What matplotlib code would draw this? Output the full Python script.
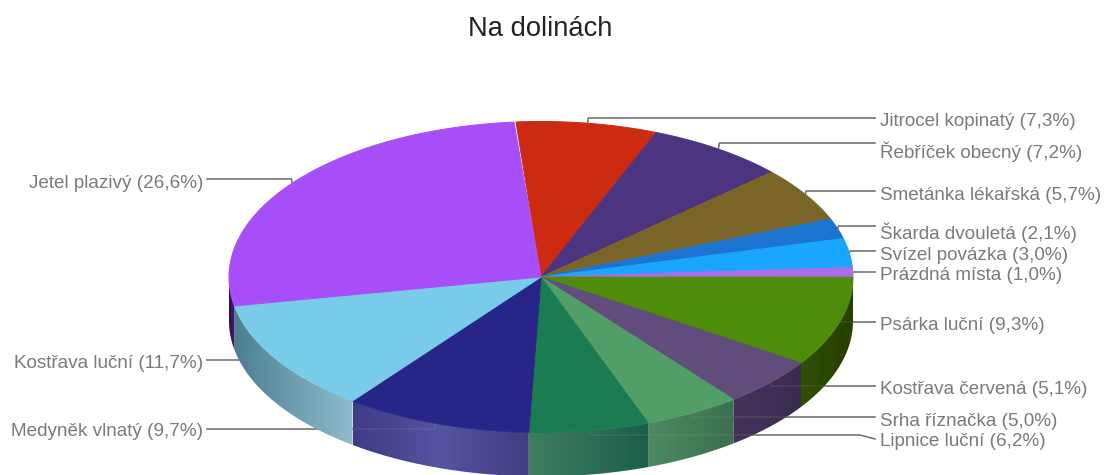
import numpy as np
import matplotlib
matplotlib.use('Agg')
import matplotlib.pyplot as plt
from matplotlib.colors import LinearSegmentedColormap
from matplotlib.patches import Polygon

plt.rcParams['font.family'] = ['Liberation Sans', 'DejaVu Sans']

title = 'Na dolinách'
names = ['Jitrocel kopinatý', 'Řebříček obecný', 'Smetánka lékařská', 'Škarda dvouletá',
         'Svízel povázka', 'Prázdná místa', 'Psárka luční', 'Kostřava červená',
         'Srha říznačka', 'Lipnice luční', 'Medyněk vlnatý', 'Kostřava luční',
         'Jetel plazivý']
values = [7.3, 7.2, 5.7, 2.1, 3.0, 1.0, 9.3, 5.1, 5.0, 6.2, 9.7, 11.7, 26.6]

top_colors = ['#cc2b12', '#4b3480', '#7a6528', '#1a74d0', '#1aa5ff', '#a96ee8', '#4f8c0a',
              '#614c7c', '#519e66', '#1a7c50', '#272587', '#79cbea', '#a84ef8']
# wall shading per slice, listed from left to right
side_colors = {
    'Psárka luční': ['#2f4f02', '#263f00'],
    'Kostřava červená': ['#42335a', '#3a2c4e'],
    'Srha říznačka': ['#4c8a62', '#3c6f50'],
    'Lipnice luční': ['#3f7d60', '#1c5e4a'],
    'Medyněk vlnatý': ['#3f3b85', '#5653a0', '#403d82'],
    'Kostřava luční': ['#4c7e92', '#8fbccb'],
    'Jetel plazivý': ['#2a1048', '#4a1c78'],
}

# leader line height and text centre for each slice, in figure pixels
line_y = [118, 143, 191, 226, 251, 272, 322, 386, 417, 435, 429, 360, 179]
text_y = [122, 152, 195, 233, 256, 276, 326, 389, 421, 442, 431, 364, 183]

W, H = 1106, 475
CX, CY = 541, 277
RX, RY = 312, 155.5
DEPTH = 44
START = -4.6  # degrees clockwise from 12 o'clock


def rim(theta_deg, drop=0):
    t = np.radians(theta_deg)
    return np.column_stack([CX + RX * np.sin(t), CY - RY * np.cos(t) + drop])


fig = plt.figure(figsize=(W / 100, H / 100), dpi=100)
ax = fig.add_axes([0, 0, 1, 1])
ax.axis('off')

edges = START + np.concatenate([[0], np.cumsum(values)]) * 3.6

# leader lines first, the pie hides them; a faint copy goes on top later
leaders = []
for i, name in enumerate(names):
    mid = (edges[i] + edges[i + 1]) / 2
    ax_pt = rim(mid)[0]
    y = line_y[i]
    if ax_pt[0] > CX:
        if name == 'Lipnice luční':
            xs, ys = [ax_pt[0], ax_pt[0], 860, 875], [ax_pt[1], y, y, 439]
        else:
            xs, ys = [ax_pt[0], ax_pt[0] + 1, 875], [ax_pt[1], y, y]
    else:
        xs, ys = [ax_pt[0], ax_pt[0] - 1, 207], [ax_pt[1], y, y]
    leaders.append((xs, ys))
    ax.plot(xs, ys, color='#666666', lw=1.1, zorder=1)

# outer wall of the front half
for i, name in enumerate(names):
    lo, hi = max(edges[i], 90), min(edges[i + 1], 270)
    if name not in side_colors or lo >= hi:
        continue
    th = np.linspace(lo, hi, 60)
    poly = np.vstack([rim(th), rim(th[::-1], DEPTH)])
    patch = Polygon(poly, closed=True, facecolor='none', edgecolor='none', zorder=2)
    ax.add_patch(patch)
    cmap = LinearSegmentedColormap.from_list('wall', side_colors[name])
    grad = np.linspace(0, 1, 256).reshape(1, -1)
    im = ax.imshow(grad, cmap=cmap, aspect='auto', zorder=2, interpolation='bilinear',
                   extent=[poly[:, 0].min(), poly[:, 0].max(), poly[:, 1].max(), poly[:, 1].min()])
    im.set_clip_path(patch)

# top face
for i, name in enumerate(names):
    th = np.linspace(edges[i], edges[i + 1], 80)
    poly = np.vstack([[CX, CY], rim(th)])
    ax.add_patch(Polygon(poly, closed=True, facecolor=top_colors[i], edgecolor=top_colors[i],
                         lw=0.7, zorder=3))

for xs, ys in leaders:
    ax.plot(xs, ys, color='#999999', lw=1.0, alpha=0.2, zorder=4)

for i, name in enumerate(names):
    label = f'{name} ({values[i]:.1f}%)'.replace('.', ',')
    if rim((edges[i] + edges[i + 1]) / 2)[0][0] > CX:
        ax.text(880, text_y[i], label, ha='left', va='center', color='#7a7a7a', fontsize=13.6)
    else:
        ax.text(203, text_y[i], label, ha='right', va='center', color='#7a7a7a', fontsize=13.6)

ax.text(540.5, 36, title, ha='center', va='baseline', color='#222222', fontsize=19.7)

ax.set_xlim(0, W)
ax.set_ylim(H, 0)
fig.savefig('out.png', dpi=100)
